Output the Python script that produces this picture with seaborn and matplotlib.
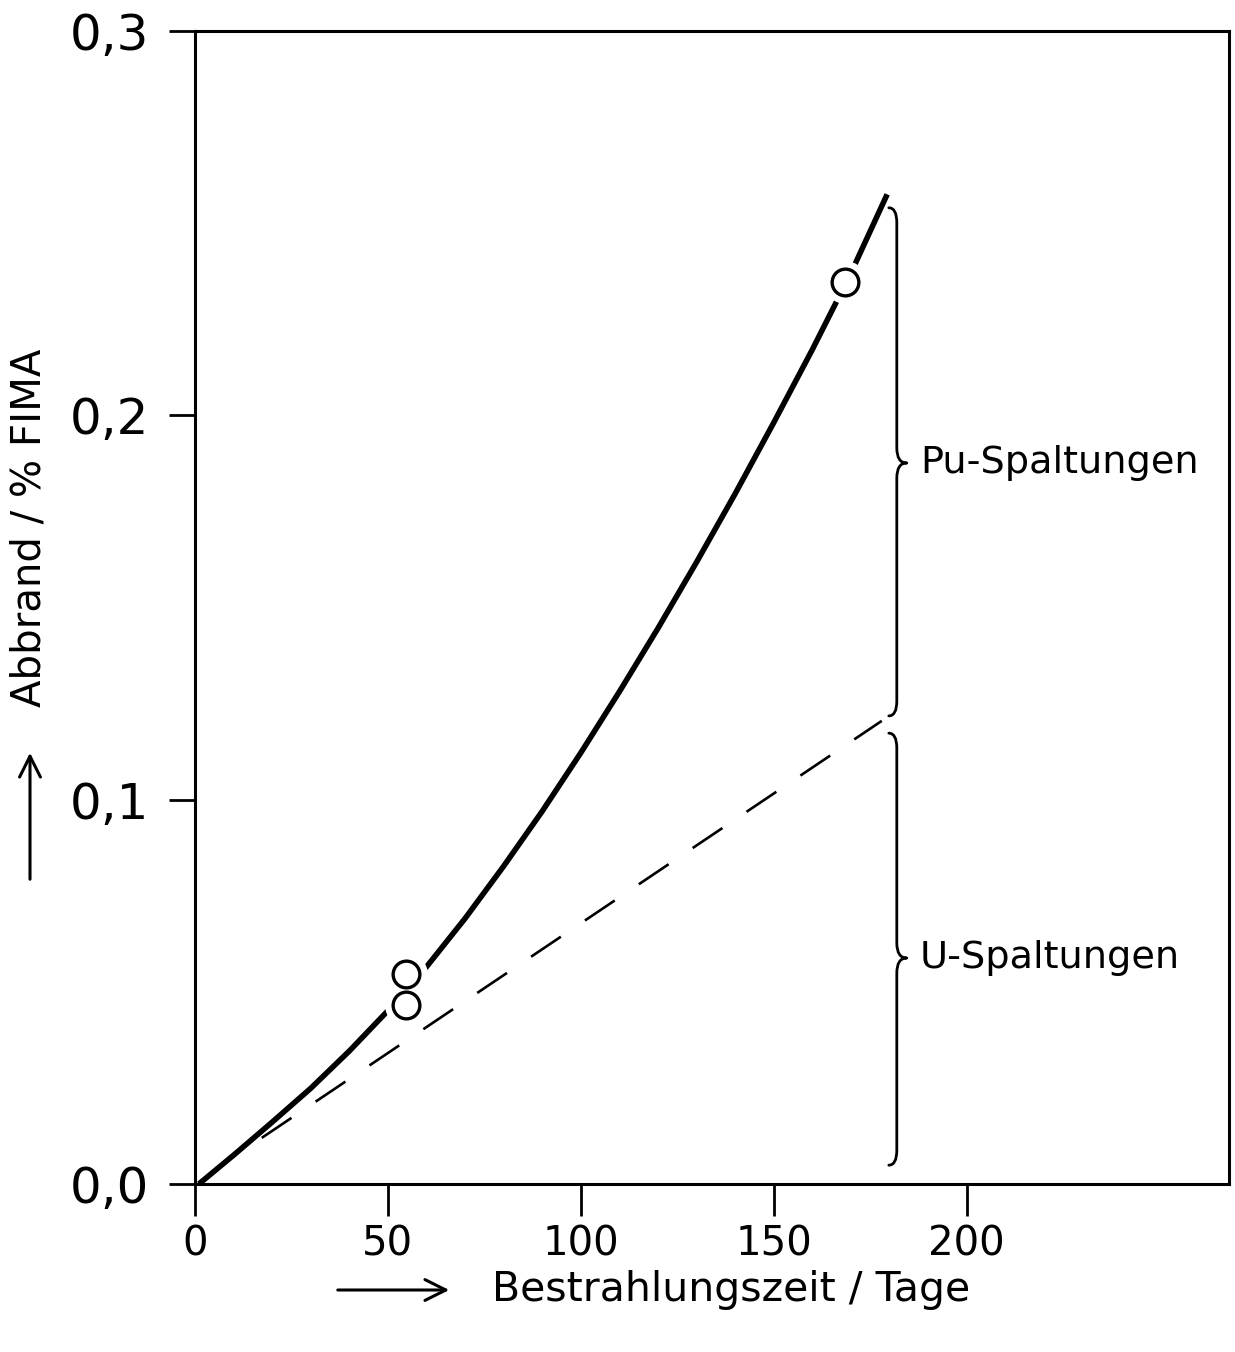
import matplotlib
matplotlib.use("Agg")
import matplotlib.pyplot as plt
from matplotlib.path import Path
from matplotlib.patches import PathPatch
import seaborn as sns
import pandas as pd

# ---------------- data ----------------
days_total = [1.0, 10, 20, 30, 40, 50, 60, 70, 80, 90, 100, 110, 120, 130, 140, 150, 160, 170, 179.4]
burnup_total = [0.0, 0.0075, 0.0161, 0.0249, 0.0346, 0.0451, 0.0565, 0.0691, 0.0827, 0.0970,
                0.1122, 0.1281, 0.1446, 0.1618, 0.1796, 0.1981, 0.2171, 0.2370, 0.2575]

days_u = [17.3, 178.0]
burnup_u = [0.0120, 0.1205]

meas_days = [54.8, 54.7, 168.4]
meas_burnup = [0.0546, 0.0465, 0.2346]

x_ticks = [0, 50, 100, 150, 200]
y_ticks = [0.0, 0.1, 0.2, 0.3]
y_ticklabels = ["0,0", "0,1", "0,2", "0,3"]

brace_labels = ["Pu-Spaltungen", "U-Spaltungen"]
brace_low = [0.1218, 0.0049]
brace_high = [0.2540, 0.1173]
brace_mid = [0.1876, 0.0588]

# ---------------- style ----------------
sns.set_theme(style="white")
plt.rcParams["font.family"] = ["DejaVu Sans"]

fig = plt.figure(figsize=(12.35, 13.52), dpi=100)
ax = fig.add_axes([195 / 1235, 1 - 1184 / 1352, (1229 - 195) / 1235, (1184 - 31) / 1352])

df_total = pd.DataFrame({"t": days_total, "b": burnup_total})
df_u = pd.DataFrame({"t": days_u, "b": burnup_u})
df_meas = pd.DataFrame({"t": meas_days, "b": meas_burnup})

sns.lineplot(data=df_total, x="t", y="b", ax=ax, color="black", lw=4.0,
             sort=False, estimator=None, zorder=2, solid_capstyle="butt")
# white halo around measured points (gaps in the curve)
sns.scatterplot(data=df_meas, x="t", y="b", ax=ax, s=950, color="white",
                edgecolor="white", linewidth=0, zorder=3, legend=False)
sns.lineplot(data=df_u, x="t", y="b", ax=ax, color="black", lw=1.9,
             sort=False, estimator=None, zorder=4, linestyle=(0, (13.6, 11.0)))
sns.scatterplot(data=df_meas, x="t", y="b", ax=ax, s=370, color="white",
                edgecolor="black", linewidth=2.4, zorder=5, legend=False)

ax.set_xlim(0, 268)
ax.set_ylim(0, 0.3)
ax.set_xticks(x_ticks)
ax.set_xticklabels([str(v) for v in x_ticks], fontsize=29)
ax.set_yticks(y_ticks)
ax.set_yticklabels(y_ticklabels, fontsize=36)
ax.set_xlabel("")
ax.set_ylabel("")

for sp in ax.spines.values():
    sp.set_color("black")
    sp.set_linewidth(2.2)
ax.tick_params(axis="x", direction="out", length=23, width=2.0, pad=6, colors="black",
               bottom=True)
ax.tick_params(axis="y", direction="out", length=19, width=2.0, pad=14, colors="black",
               left=True)

# ---------------- braces ----------------
px_x = 1 / 3.86      # one pixel in days
px_y = 1 / 3843.0    # one pixel in burnup units
xc = 181.9
hook = 8 * px_x
tip = 10 * px_x
r = 15 * px_y
for lab, lo, hi, mid in zip(brace_labels, brace_low, brace_high, brace_mid):
    verts = [(xc - hook, hi), (xc, hi), (xc, hi - r),
             (xc, mid + r),
             (xc, mid), (xc + tip, mid),
             (xc, mid), (xc, mid - r),
             (xc, lo + r),
             (xc, lo), (xc - hook, lo)]
    codes = [Path.MOVETO, Path.CURVE3, Path.CURVE3,
             Path.LINETO,
             Path.CURVE3, Path.CURVE3,
             Path.CURVE3, Path.CURVE3,
             Path.LINETO,
             Path.CURVE3, Path.CURVE3]
    ax.add_patch(PathPatch(Path(verts, codes), fill=False, lw=2.0, ec="black",
                           capstyle="round", joinstyle="round", zorder=4))
    ax.text(xc + tip + 13 * px_x, mid, lab, fontsize=27.5, va="center", ha="left",
            color="black")

# ---------------- axis titles with arrows ----------------
fig.text(492 / 1235, 1 - 1290 / 1352, "Bestrahlungszeit / Tage", fontsize=29.5,
         ha="left", va="center", color="black")
fig.text(30 / 1235, 1 - 528 / 1352, "Abbrand / % FIMA", fontsize=29,
         rotation=90, ha="center", va="center", color="black")
fig.patches.append(matplotlib.patches.FancyArrowPatch(
    (335 / 1235, 1 - 1290 / 1352), (452 / 1235, 1 - 1290 / 1352),
    transform=fig.transFigure, arrowstyle="->,head_length=10,head_width=5",
    lw=2.2, color="black", mutation_scale=1.5))
fig.patches.append(matplotlib.patches.FancyArrowPatch(
    (30 / 1235, 1 - 882 / 1352), (30 / 1235, 1 - 750 / 1352),
    transform=fig.transFigure, arrowstyle="->,head_length=10,head_width=5",
    lw=2.2, color="black", mutation_scale=1.5))

fig.savefig("out.png", dpi=100, facecolor="white")
